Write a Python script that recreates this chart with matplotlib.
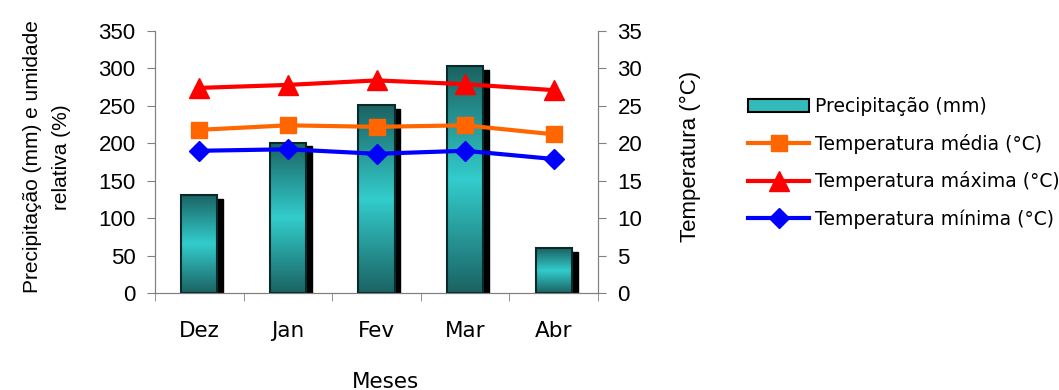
import numpy as np
import matplotlib.pyplot as plt
from matplotlib.patches import Rectangle
from matplotlib.colors import LinearSegmentedColormap

meses = ["Dez", "Jan", "Fev", "Mar", "Abr"]
precipitacao = [131, 201, 251, 303, 60]
temp_media = [21.8, 22.4, 22.2, 22.4, 21.2]
temp_maxima = [27.4, 27.8, 28.4, 27.9, 27.1]
temp_minima = [19.0, 19.2, 18.6, 19.0, 17.9]

plt.rcParams['font.family'] = ['Liberation Sans', 'DejaVu Sans']

fig = plt.figure(figsize=(10.59, 3.9), dpi=100)
ax = fig.add_axes([0.1464, 0.2487, 0.4183, 0.6718])
ax2 = ax.twinx()

x = np.arange(len(meses))
w = 0.41
cmap = LinearSegmentedColormap.from_list("teal", ["#1b6262", "#33cccc", "#1b6262"])
grad = np.linspace(0, 1, 256).reshape(-1, 1)

for xi, v in zip(x, precipitacao):
    # sombra
    ax.add_patch(Rectangle((xi - w / 2 + 0.065, -5), w, v, color="black", zorder=1))
    rect = Rectangle((xi - w / 2, 0), w, v, facecolor="none", edgecolor="#0a2a2a",
                     linewidth=1.5, zorder=3)
    ax.add_patch(rect)
    im = ax.imshow(grad, cmap=cmap, aspect="auto", extent=(xi - w / 2, xi + w / 2, 0, v),
                   zorder=2, interpolation="bicubic")
    im.set_clip_path(rect)

ax.set_xlim(-0.5, 4.5)
ax.set_ylim(0, 350)
ax.set_yticks(range(0, 351, 50))
ax.set_xticks(x)
ax.set_xticklabels(meses, family=["DejaVu Sans"])
ax.set_xticks(np.arange(-0.5, 4.6, 1), minor=True)
ax.tick_params(axis="x", which="major", length=0, pad=20, labelsize=15.5)
ax.tick_params(axis="x", which="minor", length=6, color="#808080")
ax.tick_params(axis="y", labelsize=16, length=6, color="#808080", pad=8)

ax2.plot(x, temp_media, color="#ff6600", lw=3, marker="s", ms=12, label="Temperatura média (°C)")
ax2.plot(x, temp_maxima, color="#ff0000", lw=3, marker="^", ms=14, label="Temperatura máxima (°C)")
ax2.plot(x, temp_minima, color="#0000ff", lw=3, marker="D", ms=10, label="Temperatura mínima (°C)")
ax2.set_ylim(0, 35)
ax2.set_yticks(range(0, 36, 5))
ax2.tick_params(axis="y", labelsize=16, length=6, color="#808080", pad=8)

for a in (ax, ax2):
    a.spines["top"].set_visible(False)
    for s in ("left", "right", "bottom"):
        a.spines[s].set_color("#808080")

ax.set_xlabel("Meses", fontsize=15.5, family=["DejaVu Sans"], va="top")
ax.xaxis.set_label_coords(0.52, -0.3)
ax.set_ylabel("Precipitação (mm) e umidade\nrelativa (%)", fontsize=15, linespacing=1.65)
ax.yaxis.set_label_coords(-0.19, 0.52)
ax2.set_ylabel("Temperatura (°C)", fontsize=16)
ax2.yaxis.set_label_coords(1.185, 0.52)

bar_handle = Rectangle((0, 0), 1, 1, facecolor="#33bbbb", edgecolor="black", lw=1.5)
handles = [bar_handle] + ax2.get_lines()
labels = ["Precipitação (mm)"] + [l.get_label() for l in ax2.get_lines()]
fig.legend(handles, labels, loc="upper left", bbox_to_anchor=(0.69, 0.795), frameon=False,
           prop={"family": "DejaVu Sans", "size": 13.5}, handlelength=3.3, handletextpad=0.3,
           labelspacing=0.95)

fig.savefig("out.png", dpi=100)
